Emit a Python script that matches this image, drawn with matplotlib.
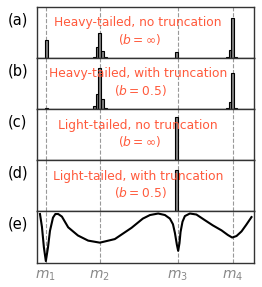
import matplotlib
matplotlib.use("Agg")
import matplotlib.pyplot as plt

# mode positions (x axis runs 0..10)
modes = [0.41, 2.90, 6.48, 9.03]
mode_labels = ["$m_1$", "$m_2$", "$m_3$", "$m_4$"]

bin_w = 0.13

# histogram bars: centres and heights
a_x = [0.43, 2.64, 2.77, 2.90, 3.03, 3.16, 6.45, 8.77, 8.90, 9.03, 9.16]
a_h = [0.35, 0.02, 0.22, 0.49, 0.13, 0.02, 0.12, 0.02, 0.15, 0.79, 0.02]

b_x = [0.43, 2.64, 2.77, 2.90, 3.03, 3.16, 8.77, 8.90, 9.03, 9.16]
b_h = [0.02, 0.06, 0.29, 0.80, 0.20, 0.02, 0.02, 0.14, 0.71, 0.02]

c_x = [6.43]
c_h = [0.84]

d_x = [6.43]
d_h = [0.82]

# potential curve in panel (e)
e_x = [0.14, 0.23, 0.32, 0.41, 0.51, 0.60, 0.74, 0.85, 0.98, 1.15, 1.44,
       1.89, 2.36, 2.90, 3.59, 4.36, 4.88, 5.21, 5.59, 5.90, 6.13, 6.27,
       6.36, 6.45, 6.51, 6.57, 6.62, 6.71, 6.82, 7.05, 7.35, 7.74, 8.10,
       8.51, 8.80, 9.00, 9.20, 9.43, 9.65, 9.89]
e_y = [0.95, 0.70, 0.30, 0.03, 0.30, 0.62, 0.88, 0.95, 0.95, 0.90, 0.69,
       0.53, 0.43, 0.39, 0.46, 0.68, 0.86, 0.93, 0.96, 0.93, 0.86, 0.75,
       0.58, 0.35, 0.23, 0.38, 0.60, 0.80, 0.91, 0.96, 0.94, 0.83, 0.73,
       0.63, 0.54, 0.49, 0.52, 0.61, 0.74, 0.89]

panel_tags = ["(a)", "(b)", "(c)", "(d)", "(e)"]
titles = [
    ("Heavy-tailed, no truncation", r"($b=\infty$)"),
    ("Heavy-tailed, with truncation", r"($b=0.5$)"),
    ("Light-tailed, no truncation", r"($b=\infty$)"),
    ("Light-tailed, with truncation", r"($b=0.5$)"),
]
hists = [(a_x, a_h), (b_x, b_h), (c_x, c_h), (d_x, d_h)]

RED = "#ff5a3c"
GRID = "#999999"

fig, axes = plt.subplots(5, 1, figsize=(2.62, 2.87), dpi=100, sharex=True)
fig.subplots_adjust(left=0.141, right=0.969, bottom=0.085, top=0.976, hspace=0)

for i, ax in enumerate(axes):
    ax.set_xlim(0, 10)
    ax.set_ylim(0, 1)
    for m in modes:
        ax.axvline(m, color=GRID, ls="--", lw=0.8, zorder=1)
    if i < 4:
        xs, hs = hists[i]
        ax.bar(xs, hs, width=bin_w, color="#808080", edgecolor="black",
               linewidth=0.8, zorder=2)
        line1, line2 = titles[i]
        ax.text(0.465, 0.69, line1, transform=ax.transAxes, ha="center",
                va="center", color=RED, fontsize=8.8, zorder=3)
        ax.text(0.475, 0.37, line2, transform=ax.transAxes, ha="center",
                va="center", color=RED, fontsize=8.8, zorder=3)
    else:
        ax.plot(e_x, e_y, color="black", lw=1.5, zorder=2)
    ax.text(-0.088, 0.75, panel_tags[i], transform=ax.transAxes, ha="center",
            va="center", fontsize=10.5)
    ax.set_yticks([])
    ax.tick_params(axis="x", length=0, pad=4)
    for sp in ax.spines.values():
        sp.set_color("#333333")
        sp.set_linewidth(1.0)

axes[-1].set_xticks(modes)
axes[-1].set_xticklabels(mode_labels, color="#888888", fontsize=10)

fig.savefig("out.png", dpi=100)
